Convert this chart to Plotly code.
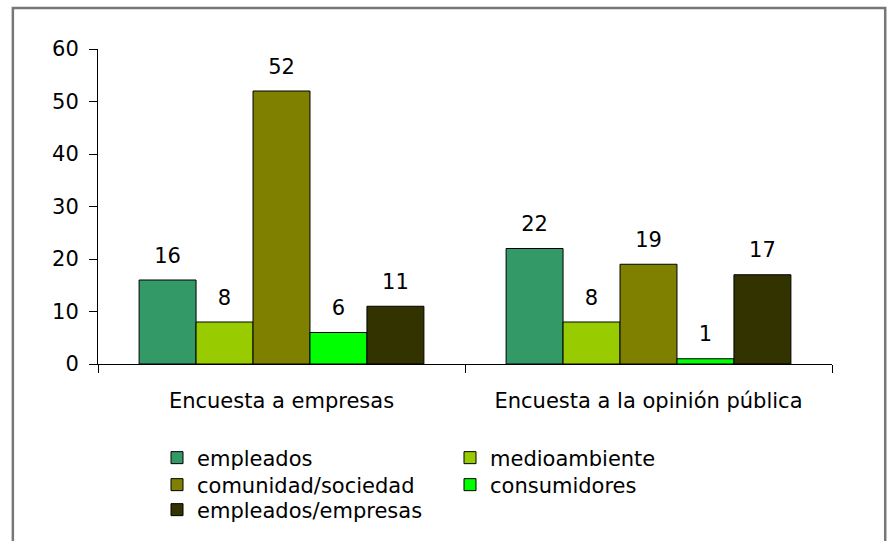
import plotly.graph_objects as go

# Survey groups and the stakeholder series shown for each
encuestas = ["Encuesta a empresas", "Encuesta a la opinión pública"]
series = ["empleados", "medioambiente", "comunidad/sociedad", "consumidores", "empleados/empresas"]
valores = {
    "empleados": [16, 22],
    "medioambiente": [8, 8],
    "comunidad/sociedad": [52, 19],
    "consumidores": [6, 1],
    "empleados/empresas": [11, 17],
}
colores = ["#339966", "#99CC00", "#808000", "#00FF00", "#333300"]
y_ticks = [0, 10, 20, 30, 40, 50, 60]

# legend rows: two entries per row, laid out as three stacked legends
filas_leyenda = ["legend", "legend", "legend2", "legend2", "legend3"]

FONT = "DejaVu Sans"
FS = 21

fig = go.Figure()

for nombre, color, leyenda in zip(series, colores, filas_leyenda):
    fig.add_trace(go.Bar(
        name=nombre,
        x=encuestas,
        y=valores[nombre],
        marker=dict(color=color, line=dict(color="#000000", width=1)),
        legend=leyenda,
        hoverinfo="x+y+name",
    ))

# value labels, grouped the same way as the bars
for nombre in series:
    fig.add_trace(go.Scatter(
        x=encuestas,
        y=valores[nombre],
        mode="markers+text",
        text=[str(v) for v in valores[nombre]],
        textposition="top center",
        textfont=dict(family=FONT, size=FS, color="#000000"),
        marker=dict(size=18, opacity=0),
        showlegend=False,
        hoverinfo="skip",
    ))

# outer frame of the chart (its lower edge falls below the page)
fig.add_shape(
    type="rect", xref="paper", yref="paper",
    x0=-0.116, x1=1.0725, y0=-0.65, y1=1.13,
    line=dict(color="#777777", width=2.5),
    fillcolor="rgba(0,0,0,0)", layer="below",
)

leyenda_base = dict(
    orientation="h",
    x=0.0804, xanchor="left",
    yanchor="middle",
    entrywidth=248,
    font=dict(family=FONT, size=FS, color="#000000"),
    bgcolor="rgba(0,0,0,0)",
    traceorder="normal",
)

fig.update_layout(
    width=887, height=541,
    margin=dict(l=98, r=55, t=49, b=177, autoexpand=False),
    paper_bgcolor="#FFFFFF",
    plot_bgcolor="#FFFFFF",
    barmode="group",
    bargap=0.224,
    bargroupgap=0,
    scattermode="group",
    scattergap=0.224,
    font=dict(family=FONT, size=FS, color="#000000"),
    showlegend=True,
    legend=dict(leyenda_base, y=-0.2984),
    legend2=dict(leyenda_base, y=-0.3841),
    legend3=dict(leyenda_base, y=-0.4635),
    xaxis=dict(
        showline=True, linecolor="#000000", linewidth=1,
        ticks="outside", ticklen=8, tickcolor="#000000",
        tickson="boundaries",
        ticklabelstandoff=18,
        showgrid=False,
        tickfont=dict(family=FONT, size=FS, color="#000000"),
    ),
    yaxis=dict(
        range=[0, 60],
        tickvals=y_ticks,
        showline=True, linecolor="#000000", linewidth=1,
        ticks="outside", ticklen=8, tickcolor="#000000",
        ticklabelstandoff=6,
        showgrid=False, zeroline=False,
        tickfont=dict(family=FONT, size=FS, color="#000000"),
    ),
)

fig.write_html("out.html")
